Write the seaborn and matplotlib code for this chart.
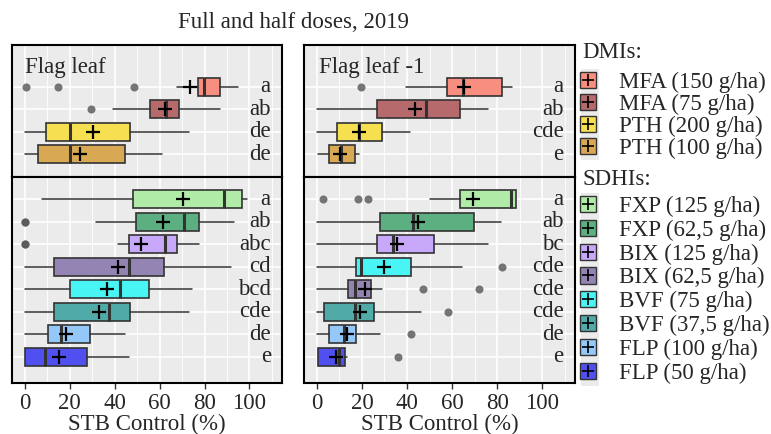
import matplotlib
matplotlib.use("Agg")
import matplotlib.pyplot as plt
import matplotlib.patches as mpatches
from matplotlib.lines import Line2D
import seaborn as sns

sns.set_theme(style="darkgrid", rc={"axes.facecolor": "#EBEBEB", "grid.color": "white"})
plt.rcParams['font.family'] = ['Liberation Serif', 'DejaVu Serif']

# treatments
dmi_names = ['MFA (150 g/ha)', 'MFA (75 g/ha)', 'PTH (200 g/ha)', 'PTH (100 g/ha)']
sdhi_names = ['FXP (125 g/ha)', 'FXP (62,5 g/ha)', 'BIX (125 g/ha)', 'BIX (62,5 g/ha)',
              'BVF (75 g/ha)', 'BVF (37,5 g/ha)', 'FLP (100 g/ha)', 'FLP (50 g/ha)']
colors = {
    'MFA (150 g/ha)': '#F88E80', 'MFA (75 g/ha)': '#B66A6C',
    'PTH (200 g/ha)': '#F6E052', 'PTH (100 g/ha)': '#D8A852',
    'FXP (125 g/ha)': '#B0ECA8', 'FXP (62,5 g/ha)': '#5BAF80',
    'BIX (125 g/ha)': '#C8A8F8', 'BIX (62,5 g/ha)': '#9484B4',
    'BVF (75 g/ha)': '#48F4F4', 'BVF (37,5 g/ha)': '#50AAA8',
    'FLP (100 g/ha)': '#94C8F8', 'FLP (50 g/ha)': '#5050F0',
}

# Flag leaf - DMIs
fl_dmi_order = dmi_names
fl_dmi_lo = [67.9, 39.3, 0, 0]
fl_dmi_q1 = [76.9, 55.8, 9.6, 5.9]
fl_dmi_med = [79.6, 63.0, 20.3, 20.3]
fl_dmi_q3 = [87.0, 68.6, 46.7, 44.4]
fl_dmi_hi = [94.8, 86.7, 73.3, 61.2]
fl_dmi_mean = [73.6, 62.5, 30.4, 24.4]
fl_dmi_out = [[0.7, 14.8, 48.6], [29.6], [], []]
fl_dmi_letters = ['a', 'ab', 'de', 'de']

# Flag leaf - SDHIs
fl_sdhi_order = sdhi_names
fl_sdhi_lo = [7.7, 31.9, 41.5, 0, 0, 0, 0, 0]
fl_sdhi_q1 = [48.1, 49.3, 46.2, 12.9, 19.9, 12.9, 10.4, 0]
fl_sdhi_med = [88.6, 70.7, 62.5, 46.4, 42.5, 37.5, 16.3, 9.2]
fl_sdhi_q3 = [96.7, 77.5, 67.9, 62.1, 55.1, 47.0, 28.9, 27.7]
fl_sdhi_hi = [98.8, 93.0, 77.5, 91.9, 74.5, 73.3, 44.4, 46.4]
fl_sdhi_mean = [70.4, 61.5, 51.9, 41.5, 36.6, 32.9, 18.5, 15.1]
fl_sdhi_out = [[], [0, 0], [0, 0], [], [], [], [], []]
fl_sdhi_letters = ['a', 'ab', 'abc', 'cd', 'bcd', 'cde', 'de', 'e']

# Flag leaf -1 - DMIs
fl1_dmi_order = dmi_names
fl1_dmi_lo = [39.7, 0, 0, 0.7]
fl1_dmi_q1 = [57.8, 26.9, 8.9, 5.2]
fl1_dmi_med = [64.9, 48.4, 18.5, 10.8]
fl1_dmi_q3 = [81.9, 63.4, 28.9, 16.7]
fl1_dmi_hi = [86.7, 75.8, 41.2, 18.9]
fl1_dmi_mean = [65.2, 43.7, 18.8, 10.4]
fl1_dmi_out = [[19.7], [], [], []]
fl1_dmi_letters = ['a', 'ab', 'cde', 'e']

# Flag leaf -1 - SDHIs
fl1_sdhi_order = ['FXP (125 g/ha)', 'FXP (62,5 g/ha)', 'BIX (125 g/ha)', 'BVF (75 g/ha)',
                  'BIX (62,5 g/ha)', 'BVF (37,5 g/ha)', 'FLP (100 g/ha)', 'FLP (50 g/ha)']
fl1_sdhi_lo = [50.0, 0, 0, 0, 0, 0, 0, 0.3]
fl1_sdhi_q1 = [63.4, 28.1, 26.9, 17.3, 13.6, 3.2, 5.2, 0.3]
fl1_sdhi_med = [85.9, 42.5, 33.6, 19.6, 16.7, 17.0, 11.9, 9.9]
fl1_sdhi_q3 = [88.4, 69.9, 52.1, 41.8, 24.0, 25.2, 17.5, 12.3]
fl1_sdhi_hi = [88.4, 81.5, 75.8, 64.4, 28.9, 46.4, 27.8, 13.3]
fl1_sdhi_mean = [69.2, 44.9, 35.6, 29.6, 21.5, 19.3, 13.3, 8.4]
fl1_sdhi_out = [[2.7, 18.2, 22.7], [], [], [82.2], [46.9, 71.8], [58.2], [41.8], [35.8]]
fl1_sdhi_letters = ['a', 'ab', 'bc', 'cde', 'cde', 'cde', 'de', 'e']

xticks = [0, 20, 40, 60, 80, 100]
FS = 16.5
EDGE = '#333333'


def draw_panel(ax, order, lo, q1, med, q3, hi, mean, out, letters, ylim, bottom):
    pos = list(range(len(order)))
    stats = [dict(whislo=a, q1=b, med=c, q3=d, whishi=e, fliers=f)
             for a, b, c, d, e, f in zip(lo, q1, med, q3, hi, out)]
    bp = ax.bxp(stats, positions=pos, orientation='horizontal', widths=0.8,
                patch_artist=True, showcaps=False, showfliers=True,
                boxprops=dict(edgecolor=EDGE, linewidth=1.2),
                whiskerprops=dict(color=EDGE, linewidth=1.1),
                medianprops=dict(color=EDGE, linewidth=2.2),
                flierprops=dict(marker='o', markerfacecolor='#555555', markeredgecolor='none',
                                markersize=5.8, alpha=0.8))
    for patch, name in zip(bp['boxes'], order):
        patch.set_facecolor(colors[name])
    sns.scatterplot(x=mean, y=pos, marker='+', color='black', s=110, linewidth=1.6, ax=ax, zorder=5)
    for i, t in enumerate(letters):
        ax.text(109.5, i, t, ha='right', va='center', fontsize=FS)

    ax.set_xlim(-5.7, 114.5)
    ax.set_ylim(*ylim)
    ax.set_xticks(xticks)
    ax.set_xticks([10, 30, 50, 70, 90, 110], minor=True)
    ax.set_yticks(pos)
    ax.set_yticklabels([])
    ax.grid(which='major', color='white', linewidth=1.2)
    ax.grid(which='minor', axis='x', color='white', linewidth=0.6)
    ax.set_axisbelow(True)
    ax.set_ylabel('')
    ax.set_xlabel('')
    for s in ax.spines.values():
        s.set_visible(True)
        s.set_color('black')
        s.set_linewidth(1.5)
    ax.tick_params(axis='y', length=0)
    ax.tick_params(axis='x', which='minor', length=0)
    if bottom:
        ax.tick_params(axis='x', which='major', length=4, width=1, color=EDGE,
                       labelsize=FS, pad=3, bottom=True)
        ax.set_xlabel('STB Control (%)', fontsize=FS, labelpad=0)
    else:
        ax.tick_params(axis='x', which='major', length=0, labelbottom=False)


fig = plt.figure(figsize=(7.71, 4.34), dpi=100)
W, H = 771, 434


def px_axes(x0, y0, x1, y1):
    return fig.add_axes([x0 / W, 1 - y1 / H, (x1 - x0) / W, (y1 - y0) / H])


ax_tl = px_axes(12, 45, 282, 177)
ax_bl = px_axes(12, 177, 282, 383)
ax_tr = px_axes(304, 45, 575, 177)
ax_br = px_axes(304, 177, 575, 383)

top_ylim = (4.0, -1.85)
bot_ylim = (8.17, -1.0)

draw_panel(ax_tl, fl_dmi_order, fl_dmi_lo, fl_dmi_q1, fl_dmi_med, fl_dmi_q3, fl_dmi_hi,
           fl_dmi_mean, fl_dmi_out, fl_dmi_letters, top_ylim, False)
draw_panel(ax_bl, fl_sdhi_order, fl_sdhi_lo, fl_sdhi_q1, fl_sdhi_med, fl_sdhi_q3, fl_sdhi_hi,
           fl_sdhi_mean, fl_sdhi_out, fl_sdhi_letters, bot_ylim, True)
draw_panel(ax_tr, fl1_dmi_order, fl1_dmi_lo, fl1_dmi_q1, fl1_dmi_med, fl1_dmi_q3, fl1_dmi_hi,
           fl1_dmi_mean, fl1_dmi_out, fl1_dmi_letters, top_ylim, False)
draw_panel(ax_br, fl1_sdhi_order, fl1_sdhi_lo, fl1_sdhi_q1, fl1_sdhi_med, fl1_sdhi_q3, fl1_sdhi_hi,
           fl1_sdhi_mean, fl1_sdhi_out, fl1_sdhi_letters, bot_ylim, True)

ax_tl.text(0.3, -0.85, 'Flag leaf', ha='left', va='center', fontsize=FS)
ax_tr.text(1.0, -0.85, 'Flag leaf -1', ha='left', va='center', fontsize=FS)

fig.text(293.5 / W, 1 - 22 / H, 'Full and half doses, 2019', ha='center', va='center', fontsize=FS)

# legend titles
fig.text(582 / W, 1 - 53 / H, 'DMIs:', ha='left', va='center', fontsize=FS)
fig.text(582 / W, 1 - 179 / H, 'SDHIs:', ha='left', va='center', fontsize=FS)

# grey key background columns of the legends
fig.patches.append(mpatches.Rectangle((581 / W, 1 - 160 / H), 18 / W, 91 / H,
                                      transform=fig.transFigure, facecolor='#EBEBEB',
                                      edgecolor='none', zorder=0))
fig.patches.append(mpatches.Rectangle((581 / W, 1 - 386 / H), 18 / W, 193 / H,
                                      transform=fig.transFigure, facecolor='#EBEBEB',
                                      edgecolor='none', zorder=0))


def handles(names):
    return [(mpatches.Patch(facecolor=colors[n], edgecolor=EDGE, linewidth=1),
             Line2D([], [], marker='+', color='black', linestyle='none', markersize=8, markeredgewidth=1.2))
            for n in names]


leg_kw = dict(loc='upper left', frameon=False, fontsize=FS,
              handlelength=0.7, handleheight=0.7, handletextpad=1.0, borderpad=0,
              borderaxespad=0)
fig.legend(handles(dmi_names), dmi_names, bbox_to_anchor=(580 / W, 1 - 71.5 / H),
           labelspacing=0.045, **leg_kw)
fig.legend(handles(sdhi_names), sdhi_names, bbox_to_anchor=(580 / W, 1 - 195.5 / H),
           labelspacing=0.12, **leg_kw)

fig.savefig('out.png', dpi=100)
